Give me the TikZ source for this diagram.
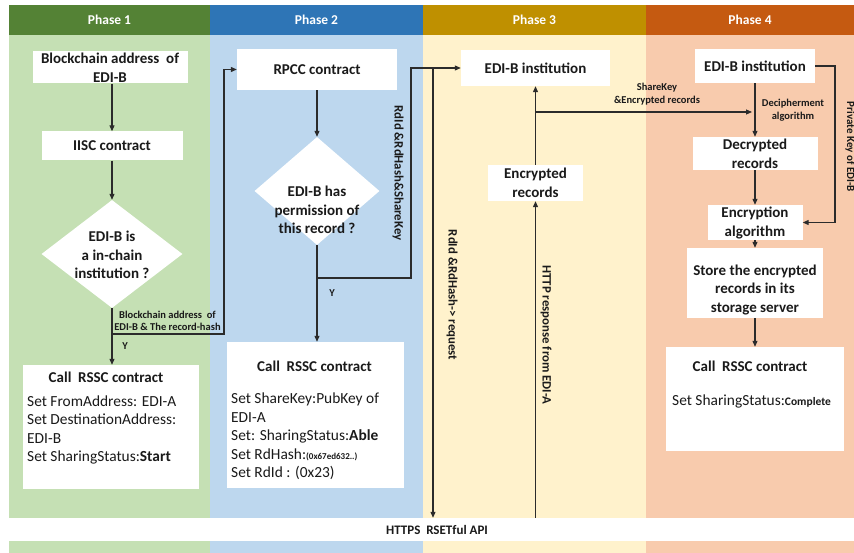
\documentclass[tikz,border=0pt]{standalone}
\usepackage{fontspec}
\setmainfont{Carlito}
\usetikzlibrary{shapes.geometric,arrows.meta}

% lane and header colours
\definecolor{laneA}{HTML}{C5E0B4}
\definecolor{laneB}{HTML}{BDD7EE}
\definecolor{laneC}{HTML}{FFF2CC}
\definecolor{laneD}{HTML}{F8CBAD}
\definecolor{headA}{HTML}{548235}
\definecolor{headB}{HTML}{2E75B6}
\definecolor{headC}{HTML}{BF9000}
\definecolor{headD}{HTML}{C55A11}
\definecolor{wirec}{HTML}{2B2B2B}
\definecolor{inkc}{HTML}{1A1A1A}

\newcommand{\fsz}[2]{\fontsize{#1}{#2}\selectfont}

\begin{document}
\begin{tikzpicture}[x=1pt,y=-1pt,
  phead/.style={fill=#1, draw=none, text=white, font=\fsz{13.5}{16}\bfseries,
    inner sep=0pt, minimum height=30pt},
  pbox/.style={fill=white, draw=none, inner sep=0pt, align=center,
    text=inkc, font=\fsz{15}{19}\bfseries},
  decision/.style={diamond, fill=white, draw=none, inner sep=0pt},
  dtext/.style={align=center, text=inkc, font=\fsz{15}{18.5}\bfseries, inner sep=0pt},
  ptitle/.style={text=inkc, font=\fsz{15}{18}\bfseries, inner sep=0pt},
  pbody/.style={align=left, anchor=north west, text=inkc, font=\fsz{15.4}{18.5}, inner sep=0pt},
  tag/.style={align=center, text=inkc, font=\fsz{10.5}{12.5}\bfseries, inner sep=0pt},
  vtag/.style={rotate=-90, text=inkc, font=\fsz{12.8}{14}\bfseries, inner sep=0pt},
  wire/.style={draw=wirec, line width=1.1pt},
  flow/.style={wire, -{Triangle[length=6pt,width=5pt]}},
]
\useasboundingbox (0,0) rectangle (854,553);
\fill[white] (0,0) rectangle (854,553);

% swim lanes
\fill[laneA] (9,5) rectangle (210,553);
\fill[laneB] (210,5) rectangle (423,553);
\fill[laneC] (423,5) rectangle (646,553);
\fill[laneD] (646,5) rectangle (854,553);

% lane headers
\node[phead=headA, minimum width=201pt] (h1) at (109.5,20) {Phase 1};
\node[phead=headB, minimum width=213pt] (h2) at (316.5,20) {Phase 2};
\node[phead=headC, minimum width=223pt] (h3) at (534.5,20) {Phase 3};
\node[phead=headD, minimum width=208pt] (h4) at (750,20) {Phase 4};

% shared API bar
\node[fill=white, inner sep=0pt, minimum width=845pt, minimum height=23pt] (https) at (431.5,529.5) {};
\node[text=inkc, font=\fsz{13}{15}\bfseries, inner sep=0pt] (httpst) at (437,529.5) {HTTPS~ RSETful API};

% ---- Phase 1 nodes ----
\node[pbox, minimum width=155pt, minimum height=32pt] (b1) at (110,67.5) {Blockchain address~ of\\EDI-B};
\node[pbox, minimum width=141pt, minimum height=29pt] (iisc) at (112,146) {IISC contract};
\node[decision, minimum width=141pt, minimum height=108pt] (d1) at (112,254) {};
\node[dtext] (dt1) at (112,255) {EDI-B is\\a in-chain\\institution ?};
\node[pbox, minimum width=176pt, minimum height=124pt] (c1) at (111,427) {};
\node[ptitle] (c1t) at (106,377) {Call~ RSSC contract};
\node[pbody] (c1b) at (27,395.5) {Set FromAddress: EDI-A\\Set DestinationAddress:\\EDI-B\\Set SharingStatus:\textbf{Start}};
\node[tag] (l1) at (167.5,321) {Blockchain address~ of\\EDI-B \& The record-hash};
\node[tag] (y1) at (125,346) {Y};

% ---- Phase 2 nodes ----
\node[pbox, minimum width=160pt, minimum height=41pt] (rpcc) at (317,69.5) {RPCC contract};
\node[decision, minimum width=125pt, minimum height=108pt] (d2) at (317,191) {};
\node[dtext] (dt2) at (317,210) {EDI-B has\\permission of\\this record ?};
\node[pbox, minimum width=177pt, minimum height=146pt] (c2) at (315.5,415) {};
\node[ptitle] (c2t) at (314.5,366) {Call~ RSSC contract};
\node[pbody] (c2b) at (231,393) {Set ShareKey:PubKey of\\EDI-A\\Set: SharingStatus:\textbf{Able}\\Set RdHash:{\fsz{9}{9}\bfseries(0x67ed632..)}\\Set RdId : (0x23)};
\node[vtag] (l2) at (398,173) {RdId \&RdHash\&ShareKey};
\node[tag] (y2) at (332,293) {Y};

% ---- Phase 3 nodes ----
\node[pbox, minimum width=149pt, minimum height=36pt] (edi3) at (535.5,68) {EDI-B institution};
\node[pbox, minimum width=95pt, minimum height=36pt] (enc) at (535.5,183) {Encrypted\\records};
\node[vtag] (l3) at (452,295) {RdId \&RdHash-> request};
\node[vtag] (l4) at (546,335) {HTTP response from EDI-A};
\node[tag] (l5) at (657,94) {ShareKey\\\&Encrypted records};

% ---- Phase 4 nodes ----
\node[pbox, minimum width=120pt, minimum height=34pt] (edi4) at (755,66) {EDI-B institution};
\node[pbox, minimum width=125pt, minimum height=33pt] (dec) at (755,153.5) {Decrypted\\records};
\node[pbox, minimum width=95pt, minimum height=35pt] (encalg) at (755,222.5) {Encryption\\algorithm};
\node[pbox, minimum width=136pt, minimum height=70pt] (store) at (755,283) {};
\node[pbox, font=\fsz{15}{18.5}\bfseries] (storet) at (755,290) {Store the encrypted\\records in its\\storage server};
\node[pbox, minimum width=178pt, minimum height=104pt] (c4) at (755,399) {};
\node[ptitle] (c4t) at (750,366) {Call~ RSSC contract};
\node[pbody] (c4b) at (672,395) {Set SharingStatus:{\fsz{11.5}{12}\bfseries Complete}};
\node[tag] (l6) at (793,110) {Decipherment\\algorithm};
\node[vtag, font=\fsz{11}{12}\bfseries] (l7) at (850,147) {Private Key of EDI-B};

% ---- connectors ----
\draw[flow] (d1.north |- b1.south) -- (d1.north |- iisc.north);
\draw[flow] (d1.north |- iisc.south) -- (d1.north);
\draw[flow] (d1.south) -- (d1.south |- c1.north);
\coordinate (j1) at (112,334);
\coordinate (k1) at (224,334);
\draw[flow] (j1) -- (k1) |- (rpcc.west);

\draw[flow] (rpcc.south) -- (d2.north);
\draw[flow] (d2.south) -- (d2.south |- c2.north);
\coordinate (j2) at (317,278);
\coordinate (k2) at (411,278);
\draw[flow] (j2) -- (k2) |- (edi3.west);

\coordinate (j3) at (433,68);
\draw[flow] (j3) -- (j3 |- https.north);
\draw[flow] (https.north -| enc.south) -- (enc.south);
\draw[flow] (enc.north) -- (edi3.south);
\coordinate (j4) at (535.5,112);
\draw[flow, shorten >=3pt] (j4) -- (j4 -| edi4.south);

\draw[flow] (edi4.south) -- (dec.north);
\draw[flow] (dec.south) -- (encalg.north);
\coordinate (k4) at (835,66);
\draw[flow] (edi4.east) -- (k4) |- (encalg.east);
\draw[flow] (encalg.south) -- (store.north);
\draw[flow] (store.south) -- (c4.north);
\end{tikzpicture}
\end{document}
